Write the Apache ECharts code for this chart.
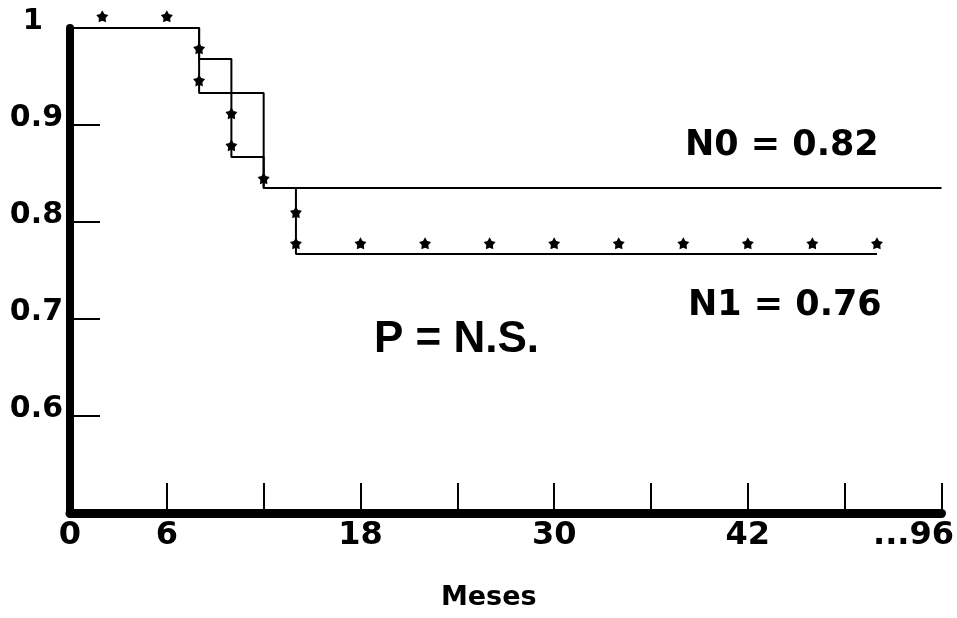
<!DOCTYPE html>
<html>
<head>
<meta charset="utf-8">
<script src="https://cdn.jsdelivr.net/npm/echarts@6/dist/echarts.min.js"></script>
<style>
  html, body { margin: 0; padding: 0; background: #fff; }
  #chart { width: 957px; height: 618px; }
</style>
</head>
<body>
<div id="chart"></div>
<script>
// curvas de supervivencia (mes, proporción)
var curveN0 = [[0, 1], [8, 0.933], [12, 0.835], [54, 0.835]];
var curveN1 = [[0, 1], [8, 0.968], [10, 0.867], [12, 0.835], [14, 0.767], [50, 0.767]];
// casos censurados (asteriscos)
var censored = [
  [2, 1.012], [6, 1.012],
  [8, 0.979], [8, 0.946],
  [10, 0.912], [10, 0.879],
  [12, 0.845],
  [14, 0.810], [14, 0.778],
  [18, 0.778], [22, 0.778], [26, 0.778], [30, 0.778], [34, 0.778],
  [38, 0.778], [42, 0.778], [46, 0.778], [50, 0.778]
];
var xTickLabels = { 0: '0', 6: '6', 18: '18', 30: '30', 42: '42', 54: '...96' };
var yTickLabels = { '1': '1', '0.9': '0.9', '0.8': '0.8', '0.7': '0.7', '0.6': '0.6' };

var FONT = '"DejaVu Sans", sans-serif';
// estrella gruesa, como los asteriscos del original
var star = 'path://M50,0 L66.5,27.3 L97.6,34.5 L76.6,58.7 L79.4,90.5 L50,78 L20.6,90.5 L23.4,58.7 L2.4,34.5 L33.5,27.3 Z';

var chart = echarts.init(document.getElementById('chart'));

var option = {
  backgroundColor: '#fff',
  animation: false,
  grid: { left: 70, right: 13, top: 28, bottom: 105 },
  xAxis: {
    type: 'value',
    min: 0,
    max: 54,
    interval: 6,
    name: 'Meses',
    nameLocation: 'middle',
    nameGap: 71,
    nameTextStyle: { fontFamily: FONT, fontWeight: 'bold', fontSize: 27, color: '#000', padding: [0, 34, 0, 0] },
    splitLine: { show: false },
    axisLine: { lineStyle: { color: '#000', width: 9 } },
    axisTick: { inside: true, length: 30, lineStyle: { color: '#000', width: 2 } },
    axisLabel: {
      margin: 7,
      color: '#000',
      fontFamily: FONT,
      fontWeight: 'bold',
      fontSize: 32,
      alignMaxLabel: 'center',
      formatter: function(v) {
        if (v === 54) return '{end|' + xTickLabels[v] + '}';
        return xTickLabels[v] || '';
      },
      rich: {
        end: { fontFamily: FONT, fontWeight: 'bold', fontSize: 32, color: '#000', padding: [0, 56, 0, 0] }
      }
    }
  },
  yAxis: {
    type: 'value',
    min: 0.5,
    max: 1,
    interval: 0.1,
    splitLine: { show: false },
    axisLine: { show: true, lineStyle: { color: '#000', width: 8 } },
    axisTick: { show: true, inside: true, length: 30, lineStyle: { color: '#000', width: 2 } },
    axisLabel: {
      margin: 7,
      color: '#000',
      fontFamily: FONT,
      fontWeight: 'bold',
      fontSize: 30,
      verticalAlign: 'bottom',
      lineHeight: 14,
      formatter: function(v) {
        var k = String(Math.round(v * 10) / 10);
        if (k === '1') return '{one|1}';
        return yTickLabels[k] || '';
      },
      rich: {
        one: { fontFamily: FONT, fontWeight: 'bold', fontSize: 29, color: '#000', lineHeight: 14, padding: [0, 20, 0, 0] }
      }
    }
  },
  series: [
    {
      name: 'N0',
      type: 'line',
      step: 'end',
      data: curveN0,
      symbol: 'none',
      clip: false,
      lineStyle: { color: '#000', width: 2 }
    },
    {
      name: 'N1',
      type: 'line',
      step: 'end',
      data: curveN1,
      symbol: 'none',
      clip: false,
      lineStyle: { color: '#000', width: 2 }
    },
    {
      name: 'censurados',
      type: 'scatter',
      data: censored,
      symbol: star,
      symbolSize: 12,
      clip: false,
      itemStyle: { color: '#000', opacity: 1 },
      z: 5
    }
  ],
  graphic: [
    { type: 'text', x: 685, y: 146, style: { text: 'N0 = 0.82', font: 'bold 35px ' + FONT, fill: '#000', verticalAlign: 'middle' } },
    { type: 'text', x: 688, y: 306, style: { text: 'N1 = 0.76', font: 'bold 35px ' + FONT, fill: '#000', verticalAlign: 'middle' } },
    { type: 'text', x: 374, y: 340, style: { text: 'P = N.S.', font: 'bold 44px "Liberation Sans", Arial, sans-serif', fill: '#000', verticalAlign: 'middle' } }
  ]
};

chart.setOption(option);
</script>
</body>
</html>
